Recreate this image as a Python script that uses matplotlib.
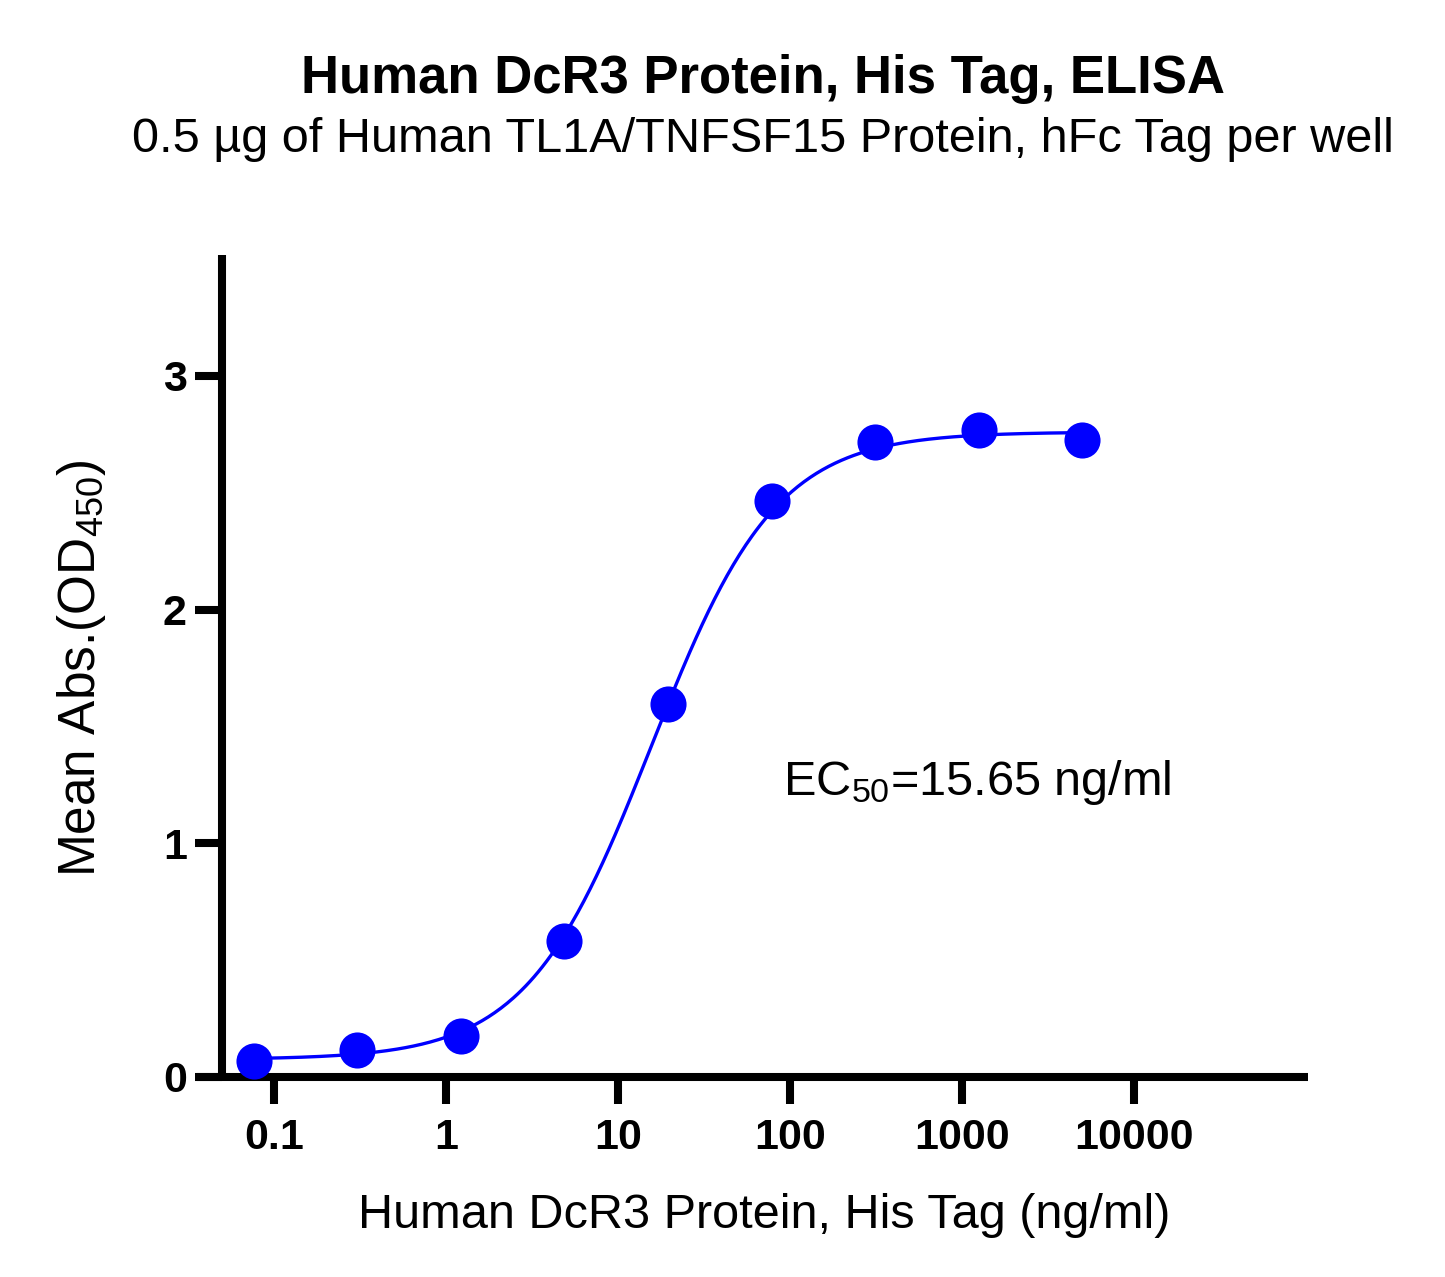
import numpy as np
import matplotlib
matplotlib.use("Agg")
import matplotlib.pyplot as plt
import matplotlib.transforms as mtrans

plt.rcParams['font.family'] = ['Liberation Sans', 'DejaVu Sans']
plt.rcParams['mathtext.fontset'] = 'custom'
plt.rcParams['mathtext.rm'] = 'Liberation Sans'
plt.rcParams['mathtext.default'] = 'regular'

# data (4-fold dilution series)
conc = [0.0763, 0.305, 1.22, 4.88, 19.53, 78.13, 312.5, 1250, 5000]
od450 = [0.068, 0.116, 0.175, 0.582, 1.596, 2.465, 2.717, 2.768, 2.726]

# 4PL fit parameters of the curve
bottom, top, ec50, hill = 0.075, 2.76, 15.65, 1.2

xticks = [0.1, 1, 10, 100, 1000, 10000]
xtick_labels = ['0.1', '1', '10', '100', '1000', '10000']
yticks = [0, 1, 2, 3]

W, H = 1445, 1277
fig = plt.figure(figsize=(W / 100, H / 100), dpi=100)

# axes box in pixels
px_left, px_right, px_bottom, px_top = 197, 1308, 1077, 255
ax = fig.add_axes([px_left / W, (H - px_bottom) / H,
                   (px_right - px_left) / W, (px_bottom - px_top) / H])

ax.set_xscale('log')
dec = 172.0
ax.set_xlim(10 ** (-1 + (px_left - 274) / dec), 10 ** (-1 + (px_right - 274) / dec))
ax.set_ylim(0, (px_bottom - px_top) / 233.7)

xs = np.logspace(np.log10(conc[0]), np.log10(conc[-1]), 400)
ys = bottom + (top - bottom) / (1 + (ec50 / xs) ** hill)
ax.plot(xs, ys, color='#0000ff', lw=2.4, zorder=3)
ax.plot(conc, od450, 'o', color='#0000ff', ms=26, mec='none', zorder=4, clip_on=False)

for s in ['top', 'right']:
    ax.spines[s].set_visible(False)
ax.spines['left'].set_position(('data', 0.05))
ax.spines['left'].set_linewidth(5.8)
ax.spines['bottom'].set_linewidth(5.8)
ax.spines['left'].set_capstyle('butt')
ax.spines['bottom'].set_capstyle('butt')

ax.set_xticks(xticks)
ax.set_xticklabels(xtick_labels)
ax.xaxis.set_minor_locator(matplotlib.ticker.NullLocator())
ax.set_yticks(yticks)
ax.set_yticklabels([str(v) for v in yticks])
ax.tick_params(axis='both', length=19.5, width=5.8, labelsize=31)
ax.tick_params(axis='x', pad=10)
ax.tick_params(axis='y', pad=6)
for lab in ax.get_xticklabels() + ax.get_yticklabels():
    lab.set_fontweight('bold')

ax.set_xlabel('Human DcR3 Protein, His Tag (ng/ml)', fontsize=35, va='baseline')
ax.xaxis.set_label_coords((764 - px_left) / (px_right - px_left),
                          (px_bottom - 1228) / (px_bottom - px_top))
ax.set_ylabel('Mean Abs.(OD$_{450}$)', fontsize=37, va='baseline')
ax.yaxis.set_label_coords((95 - px_left) / (px_right - px_left),
                          (px_bottom - 668) / (px_bottom - px_top))

ax.text(783, 1.207, 'EC$_{50}$=15.65 ng/ml', fontsize=35, va='baseline', ha='left',
        transform=mtrans.blended_transform_factory(mtrans.IdentityTransform(), ax.transData))

fig.text(763 / W, 1 - 93 / H, 'Human DcR3 Protein, His Tag, ELISA', fontsize=38,
         fontweight='bold', ha='center', va='baseline')
fig.text(763 / W, 1 - 152 / H, '0.5 \u00b5g of Human TL1A/TNFSF15 Protein, hFc Tag per well',
         fontsize=35, ha='center', va='baseline')

fig.savefig('out.png', dpi=100)
